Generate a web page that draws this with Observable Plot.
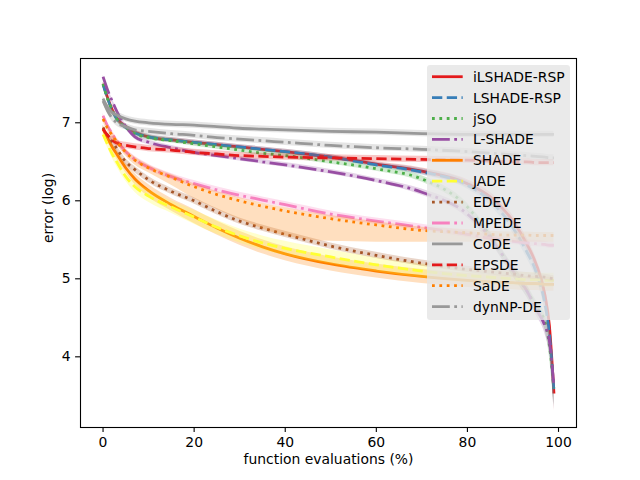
<!DOCTYPE html>
<html><head><meta charset="utf-8">
<script src="https://cdn.jsdelivr.net/npm/d3@7"></script>
<script src="https://cdn.jsdelivr.net/npm/@observablehq/plot@0.6"></script>
<style>
body{margin:0;background:#fff;}
#wrap{position:relative;width:640px;height:480px;font-family:"DejaVu Sans",sans-serif;}
#legend{position:absolute;left:427px;top:65px;width:143px;height:255px;background:rgba(229,229,229,0.8);border-radius:3px;}
</style></head><body><div id="wrap"></div>
<script>
// x positions (% of function evaluations)
const xPct = [0,1,2,3,5,7,10,15,20,25,30,35,40,50,60,70,80,85,90,93,95,97,98,99];
const xTicks = [0,20,40,60,80,100];
const yTicks = [4,5,6,7];

const iLSHADE_RSP = [7.50,7.32,7.17,7.06,6.95,6.88,6.82,6.78,6.75,6.72,6.69,6.66,6.63,6.56,6.47,6.38,6.22,6.05,5.74,5.45,5.20,4.80,4.40,3.53];
const LSHADE_RSP  = [7.49,7.31,7.16,7.05,6.94,6.87,6.82,6.78,6.75,6.72,6.69,6.66,6.63,6.56,6.46,6.37,6.20,6.00,5.65,5.35,5.10,4.68,4.30,3.55];
const jSO         = [7.50,7.31,7.16,7.05,6.94,6.86,6.81,6.77,6.73,6.69,6.65,6.61,6.58,6.50,6.41,6.28,5.92,5.55,5.10,4.85,4.65,4.45,4.15,3.60];
const L_SHADE     = [7.59,7.42,7.28,7.15,6.95,6.82,6.75,6.68,6.62,6.58,6.54,6.50,6.46,6.37,6.26,6.11,5.83,5.53,5.10,4.85,4.62,4.40,4.20,3.62];
const SHADE       = [6.92,6.80,6.69,6.60,6.42,6.28,6.13,5.95,5.80,5.65,5.52,5.41,5.32,5.19,5.10,5.03,4.98,4.96,4.95,4.94,4.94,4.93,4.93,4.93];
const JADE        = [6.85,6.72,6.60,6.50,6.31,6.18,6.06,5.92,5.79,5.66,5.55,5.46,5.39,5.28,5.18,5.10,5.04,5.02,5.00,4.99,4.99,4.98,4.98,4.98];
const EDEV        = [6.94,6.84,6.76,6.67,6.50,6.40,6.27,6.12,6.00,5.86,5.74,5.65,5.57,5.42,5.30,5.20,5.12,5.09,5.06,5.04,5.03,5.02,5.01,5.00];
const MPEDE       = [7.09,6.96,6.86,6.77,6.63,6.53,6.43,6.31,6.22,6.14,6.07,6.01,5.95,5.83,5.74,5.66,5.57,5.52,5.48,5.46,5.45,5.44,5.43,5.43];
const CoDE        = [7.31,7.20,7.13,7.10,7.05,7.02,7.00,6.98,6.97,6.95,6.93,6.92,6.91,6.89,6.88,6.86,6.85,6.85,6.85,6.85,6.85,6.85,6.85,6.85];
const EPSDE       = [6.92,6.84,6.78,6.74,6.71,6.69,6.67,6.65,6.62,6.60,6.58,6.57,6.56,6.55,6.54,6.53,6.52,6.51,6.50,6.50,6.49,6.49,6.49,6.49];
const SaDE        = [7.05,6.93,6.84,6.76,6.62,6.52,6.42,6.30,6.18,6.08,6.00,5.93,5.87,5.77,5.69,5.62,5.59,5.57,5.56,5.56,5.555,5.555,5.555,5.555];
const dynNP_DE    = [7.28,7.15,7.06,7.00,6.95,6.91,6.89,6.86,6.84,6.81,6.79,6.77,6.75,6.71,6.68,6.66,6.63,6.61,6.59,6.58,6.57,6.56,6.55,6.55];

// band half-widths read from the shaded regions
const spreadConverging = [0.02,0.03,0.03,0.03,0.03,0.03,0.03,0.03,0.03,0.03,0.03,0.03,0.03,0.03,0.03,0.04,0.05,0.06,0.07,0.08,0.08,0.10,0.15,0.22];
const spreadPlateau    = [0.03,0.03,0.04,0.04,0.04,0.04,0.04,0.04,0.04,0.04,0.04,0.04,0.04,0.04,0.04,0.04,0.04,0.04,0.04,0.04,0.04,0.04,0.04,0.04];
const spreadWide       = [0.03,0.04,0.05,0.06,0.06,0.07,0.08,0.08,0.09,0.09,0.09,0.09,0.09,0.09,0.09,0.09,0.09,0.09,0.09,0.09,0.09,0.09,0.09,0.09];
const SaDE_lower       = [7.01,6.89,6.80,6.72,6.57,6.46,6.36,6.20,6.03,5.89,5.76,5.64,5.55,5.48,5.47,5.47,5.47,5.47,5.47,5.47,5.47,5.47,5.47,5.47];

const names  = ["iLSHADE-RSP","LSHADE-RSP","jSO","L-SHADE","SHADE","JADE","EDEV","MPEDE","CoDE","EPSDE","SaDE","dynNP-DE"];
const colors = ["#e41a1c","#377eb8","#4daf4a","#984ea3","#ff7f00","#ffff33","#a65628","#f781bf","#999999","#e41a1c","#ff7f00","#999999"];
const styles = ["solid","dashed","dotted","dashdot","solid","dashed","dotted","dashdot","solid","dashed","dotted","dashdot"];
const values = [iLSHADE_RSP,LSHADE_RSP,jSO,L_SHADE,SHADE,JADE,EDEV,MPEDE,CoDE,EPSDE,SaDE,dynNP_DE];
const spreads = [spreadConverging,spreadConverging,spreadConverging,spreadConverging,spreadWide,spreadWide,spreadPlateau,spreadPlateau,spreadPlateau,spreadPlateau,spreadPlateau,spreadPlateau];

const dashMap = {solid: null, dashed: "10.3,4.45", dotted: "2.78,4.59", dashdot: "17.8,4.45,2.78,4.45"};

const marks = [];
names.forEach((name, i) => {
  const rows = xPct.map((x, j) => {
    const y = values[i][j];
    const s = spreads[i][j];
    const lo = name === "SaDE" ? SaDE_lower[j] : y - s;
    const hi = y + s;
    return {x, y, lo, hi};
  });
  marks.push(Plot.areaY(rows, {x: "x", y1: "lo", y2: "hi", fill: colors[i], fillOpacity: 0.25, curve: "monotone-x"}));
  marks.push(Plot.line(rows, {x: "x", y: "y", stroke: colors[i], strokeWidth: 2.78, strokeDasharray: dashMap[styles[i]], strokeLinecap: "butt", strokeLinejoin: "round", curve: "monotone-x"}));
});

const chart = Plot.plot({
  width: 640, height: 480,
  marginLeft: 80, marginRight: 64, marginTop: 58, marginBottom: 53,
  style: {fontFamily: "DejaVu Sans", fontSize: "13.9px", background: "white", color: "black"},
  x: {domain: [-4.95, 103.95]},
  y: {domain: [3.094, 7.824]},
  marks: [
    ...marks,
    Plot.frame({stroke: "black", strokeWidth: 1.1}),
    Plot.axisX({ticks: xTicks, tickFormat: d3.format("d"), tickSize: 4.9, tickPadding: 4.9, label: null, fontSize: 13.9, strokeWidth: 1.1}),
    Plot.axisY({ticks: yTicks, tickFormat: d3.format("d"), tickSize: 4.9, tickPadding: 4.9, label: null, fontSize: 13.9, strokeWidth: 1.1}),
    Plot.text(["function evaluations (%)"], {text: d => d, frameAnchor: "bottom", dy: 36, fontSize: 13.9, fill: "black"}),
    Plot.text(["error (log)"], {text: d => d, frameAnchor: "left", dx: -32, rotate: -90, fontSize: 13.9, fill: "black"})
  ]
});
const wrap = document.getElementById("wrap");
wrap.appendChild(chart);

// legend overlay
const leg = document.createElement("div");
leg.id = "legend";
wrap.appendChild(leg);
const lsvg = d3.select(leg).append("svg").attr("width", 143).attr("height", 255);
names.forEach((name, i) => {
  const cy = 11.7 + 20.9 * i;
  lsvg.append("line").attr("x1", 5).attr("x2", 35.7).attr("y1", cy).attr("y2", cy)
    .attr("stroke", colors[i]).attr("stroke-width", 2.78)
    .attr("stroke-dasharray", dashMap[styles[i]]).attr("stroke-linecap", "butt");
  lsvg.append("text").attr("x", 46).attr("y", cy + 5).attr("font-family", "DejaVu Sans")
    .attr("font-size", 13.9).attr("fill", "black").text(name);
});
</script></body></html>
